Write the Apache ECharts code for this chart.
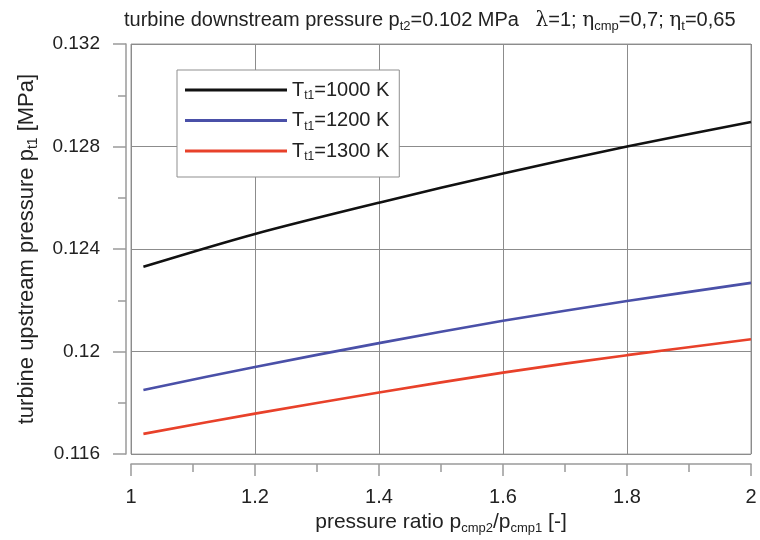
<!DOCTYPE html>
<html>
<head>
<meta charset="utf-8">
<script src="https://cdn.jsdelivr.net/npm/echarts@6/dist/echarts.min.js"></script>
<style>
html,body{margin:0;padding:0;background:#fff;}
#chart{width:760px;height:540px;}
</style>
</head>
<body>
<div id="chart"></div>
<script>
// ---- data ----
const pressureRatio = [1.02, 1.2, 1.4, 1.6, 1.8, 2.0];
const pt1_T1000 = [0.12331, 0.12459, 0.12581, 0.12695, 0.12800, 0.12896];
const pt1_T1200 = [0.11850, 0.11940, 0.12033, 0.12120, 0.12197, 0.12268];
const pt1_T1300 = [0.11679, 0.11758, 0.11840, 0.11918, 0.11986, 0.12048];
const seriesTemps = ['1000', '1200', '1300'];
const seriesColors = ['#111111', '#4a50a8', '#e8412a'];
const xTicks = [1, 1.2, 1.4, 1.6, 1.8, 2];
const yTicks = [0.116, 0.12, 0.124, 0.128, 0.132];

const FONT = 'Liberation Sans, Arial, sans-serif';
const SERIF = 'DejaVu Serif, Liberation Serif, serif';
const TXT = '#222';
const AX = '#9a9a9a';

function pairs(xs, ys) { return xs.map((x, i) => [x, ys[i]]); }
const allValues = [pt1_T1000, pt1_T1200, pt1_T1300];

function makeRich(size, subSize, lh) {
  return {
    n: { fontSize: size, lineHeight: lh, verticalAlign: 'middle', fontFamily: FONT, color: TXT },
    s: { fontSize: subSize, lineHeight: subSize, verticalAlign: 'bottom', fontFamily: FONT, color: TXT },
    g: { fontSize: size, lineHeight: lh, verticalAlign: 'middle', fontFamily: SERIF, color: TXT }
  };
}

const chart = echarts.init(document.getElementById('chart'), null, { renderer: 'canvas' });
chart.setOption({
  backgroundColor: '#fff',
  animation: false,
  title: {
    left: 119, top: 3,
    text: '{n|turbine downstream pressure p}{s|t2}{n|=0.102 MPa   }{g|λ}{n|=1; }{g|η}{s|cmp}{n|=0,7; }{g|η}{s|t}{n|=0,65}',
    textStyle: { fontFamily: FONT, fontSize: 20, fontWeight: 'normal', color: TXT, rich: makeRich(20, 13, 25) }
  },
  legend: {
    orient: 'vertical', left: 177, top: 70,
    padding: [10, 10, 14, 8],
    icon: 'rect',
    itemWidth: 102, itemHeight: 3, itemGap: 8.5,
    borderColor: '#8f8f8f', borderWidth: 1, backgroundColor: '#fff',
    data: seriesTemps.map(t => 'T_t1=' + t + ' K'),
    formatter: name => '{n|T}{s|t1}{n|' + name.replace('T_t1', '') + '}',
    textStyle: { fontFamily: FONT, fontSize: 20, color: TXT, rich: makeRich(20, 12, 24) }
  },
  grid: { left: 131, right: 9, top: 44, bottom: 82, show: true, borderColor: AX, borderWidth: 1, backgroundColor: 'transparent' },
  xAxis: {
    type: 'value', min: xTicks[0], max: xTicks[xTicks.length - 1], interval: 0.2,
    offset: 10,
    axisLine: { show: true, onZero: false, lineStyle: { color: AX, width: 1.5 } },
    axisTick: { show: true, inside: false, length: 12, lineStyle: { color: AX, width: 1.5 } },
    minorTick: { show: true, splitNumber: 2, length: 8, lineStyle: { color: AX, width: 1.5 } },
    splitLine: { show: true, lineStyle: { color: '#8c8c8c', width: 1 } },
    axisLabel: { margin: 23, fontFamily: FONT, fontSize: 20, color: TXT, formatter: v => String(+v.toFixed(2)) },
    name: '{n|pressure ratio p}{s|cmp2}{n|/p}{s|cmp1}{n| [-]}',
    nameLocation: 'middle', nameGap: 41,
    nameTextStyle: { fontFamily: FONT, fontSize: 21, color: TXT, rich: makeRich(21, 13, 25) }
  },
  yAxis: {
    type: 'value', min: yTicks[0], max: yTicks[yTicks.length - 1], interval: 0.004,
    offset: 5,
    axisLine: { show: true, onZero: false, lineStyle: { color: AX, width: 1.5 } },
    axisTick: { show: true, inside: false, length: 13, lineStyle: { color: AX, width: 1.5 } },
    minorTick: { show: true, splitNumber: 2, length: 8, lineStyle: { color: AX, width: 1.5 } },
    splitLine: { show: true, lineStyle: { color: '#8c8c8c', width: 1 } },
    axisLabel: { margin: 26, fontFamily: FONT, fontSize: 19, color: TXT, formatter: v => String(+v.toFixed(3)) },
    name: '{n|turbine upstream pressure p}{s|t1}{n| [MPa]}',
    nameLocation: 'middle', nameRotate: 90, nameGap: 86,
    nameTextStyle: { fontFamily: FONT, fontSize: 22, color: TXT, rich: makeRich(22, 14, 26) }
  },
  series: seriesTemps.map((t, i) => ({
    name: 'T_t1=' + t + ' K',
    type: 'line',
    data: pairs(pressureRatio, allValues[i]),
    smooth: 0.3,
    symbol: 'none',
    lineStyle: { color: seriesColors[i], width: 2.6 },
    itemStyle: { color: seriesColors[i] }
  }))
});
</script>
</body>
</html>
